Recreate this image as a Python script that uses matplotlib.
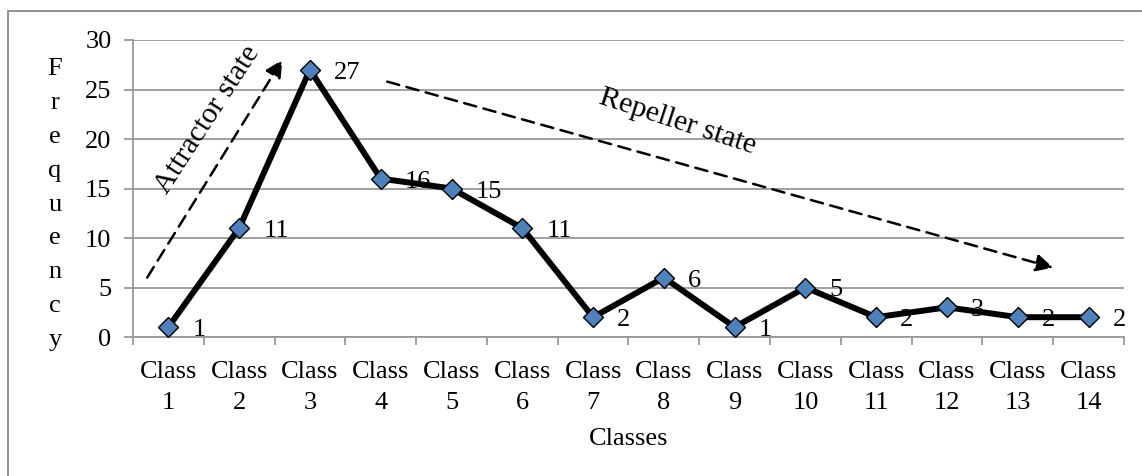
import matplotlib
matplotlib.use("Agg")
import matplotlib.pyplot as plt
from matplotlib.patches import Rectangle
import numpy as np

classes = ["Class\n%d" % i for i in range(1, 15)]
freq = [1, 11, 27, 16, 15, 11, 2, 6, 1, 5, 2, 3, 2, 2]
yticks = [0, 5, 10, 15, 20, 25, 30]
ylabel_text = "Frequency"

plt.rcParams['font.family'] = ['Liberation Serif', 'DejaVu Serif']
fs = 19
grey = '#999999'

fig = plt.figure(figsize=(11.42, 4.76), dpi=100)
ax = fig.add_axes([133/1142, 1-337/476, (1124-133)/1142, (337-40)/476])

x = np.arange(len(freq))
ax.plot(x, freq, color='black', lw=4.3, marker='D', markersize=10.5,
        markerfacecolor='#4F81BD', markeredgecolor='black', markeredgewidth=1.0,
        zorder=5, clip_on=False)

for xi, v in zip(x, freq):
    ax.annotate(str(v), (xi, v), xytext=(24, -3), textcoords='offset pixels',
                ha='left', va='center', fontsize=fs, zorder=6)

ax.set_xlim(-0.5, len(freq) - 0.5)
ax.set_ylim(0, 30)
ax.set_yticks(yticks)
ax.set_xticks(x)
ax.set_xticklabels(classes, fontsize=fs, linespacing=1.55)
ax.set_xticks(np.arange(-0.5, len(freq)), minor=True)
ax.tick_params(axis='x', which='major', length=0, pad=17)
ax.tick_params(axis='x', which='minor', length=6, color=grey, width=1.3)
ax.tick_params(axis='y', length=6.5, color=grey, width=1.3, labelsize=fs, pad=9)
ax.yaxis.grid(True, color=grey, lw=1.3)
ax.set_axisbelow(True)
for s in ['top', 'right']:
    ax.spines[s].set_visible(False)
for s in ['left', 'bottom']:
    ax.spines[s].set_color(grey)
    ax.spines[s].set_linewidth(1.3)

ax.set_xlabel("Classes", fontsize=fs, labelpad=10)

# vertical stacked y label
for i, ch in enumerate(ylabel_text):
    fig.text(55/1142, 1 - (75 + i*33.9)/476, ch, fontsize=fs,
             ha='center', va='baseline')

# arrows and annotations
arrow_style = dict(arrowstyle='-|>', ls=(0, (5, 3)), lw=1.8, color='black',
                   mutation_scale=26, shrinkA=0, shrinkB=0)
ax.annotate("", xy=(1.61, 28.0), xytext=(-0.30, 6.0),
            arrowprops=arrow_style, annotation_clip=False)
ax.annotate("", xy=(12.5, 7.0), xytext=(3.09, 25.8),
            arrowprops=arrow_style, annotation_clip=False)
ax.text(0.56, 21.9, "Attractor state", rotation=57, fontsize=21.5,
        ha='center', va='center', rotation_mode='anchor')
ax.text(7.2, 21.7, "Repeller state", rotation=-18, fontsize=21.5,
        ha='center', va='center', rotation_mode='anchor')

# outer chart border
fig.patches.append(Rectangle((8/1142, -0.1), 1.2, 1 - 11/476 + 0.1,
                             transform=fig.transFigure, fill=False,
                             edgecolor='#888888', lw=1.3))

fig.savefig("out.png", dpi=100)
